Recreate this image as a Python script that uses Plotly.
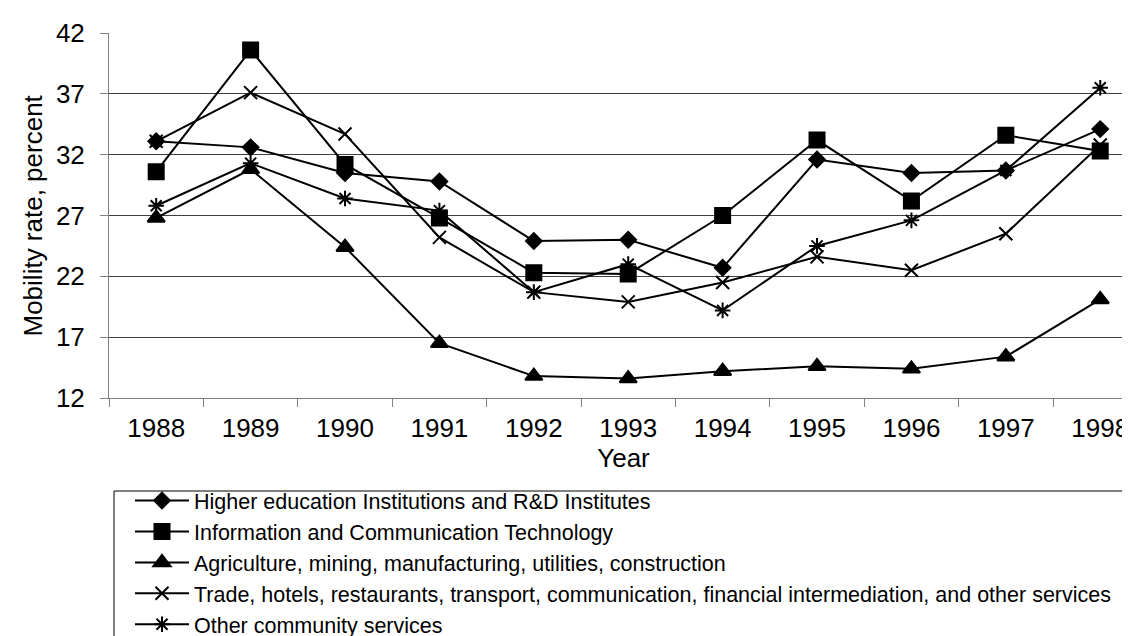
import plotly.graph_objects as go

years = ['1988', '1989', '1990', '1991', '1992', '1993', '1994', '1995', '1996', '1997', '1998']

higher_edu = [33.1, 32.6, 30.5, 29.8, 24.9, 25.0, 22.7, 31.6, 30.5, 30.7, 34.1]
ict = [30.6, 40.6, 31.2, 26.8, 22.3, 22.2, 27.0, 33.2, 28.2, 33.6, 32.3]
agriculture = [26.8, 30.8, 24.4, 16.5, 13.8, 13.6, 14.2, 14.6, 14.4, 15.4, 20.1]
trade = [33.1, 37.1, 33.7, 25.2, 20.7, 19.9, 21.5, 23.6, 22.5, 25.5, 32.8]
other_comm = [27.8, 31.3, 28.4, 27.4, 20.7, 23.0, 19.2, 24.5, 26.6, 30.7, 37.5]

series_names = [
    'Higher education Institutions and R&D Institutes',
    'Information and Communication Technology',
    'Agriculture, mining, manufacturing, utilities, construction',
    'Trade, hotels, restaurants, transport, communication, financial intermediation, and other services',
    'Other community services',
]

FONT = 'Liberation Sans, Arial, sans-serif'

# plot area in pixels (left, right, top, bottom)
L, R, T, B = 101, 1130, 25, 390
W, H = 1130, 636

fig = go.Figure()

styles = [
    dict(symbol='diamond', size=12),
    dict(symbol='square', size=15),
    dict(symbol='triangle-up', size=15),
    dict(symbol='x-thin', size=13),
    dict(symbol='asterisk', size=13),
]
all_series = [higher_edu, ict, agriculture, trade, other_comm]

for name, vals, st in zip(series_names, all_series, styles):
    fig.add_trace(go.Scatter(
        x=years,
        y=vals,
        name=name,
        mode='lines+markers',
        line=dict(color='black', width=2),
        marker=dict(symbol=st['symbol'], size=st['size'], color='black',
                    line=dict(color='black', width=2)),
    ))

# legend frame runs off the right edge like the original
fig.add_shape(
    type='rect', xref='paper', yref='paper',
    x0=(106 - L) / (R - L), x1=1.02,
    y0=(B - 640) / (B - T), y1=(B - 483) / (B - T),
    line=dict(color='black', width=1), fillcolor='rgba(0,0,0,0)',
)

# y title as an annotation, the axis title misplaces with fixed margins
fig.add_annotation(
    text='Mobility rate, percent',
    xref='paper', yref='paper',
    x=(24 - L) / (R - L), y=0.5,
    xanchor='center', yanchor='middle',
    textangle=-90, showarrow=False,
    font=dict(family=FONT, size=26, color='black'),
)

fig.update_layout(
    width=W, height=H,
    margin=dict(l=L, r=W - R, t=T, b=H - B, autoexpand=False),
    paper_bgcolor='white',
    plot_bgcolor='white',
    font=dict(family=FONT, color='black'),
    showlegend=True,
    legend=dict(
        xref='container', yref='container',
        x=122 / W, y=1 - 472 / H,
        xanchor='left', yanchor='top',
        font=dict(family=FONT, size=21.5, color='black'),
        itemwidth=54,
        bgcolor='rgba(0,0,0,0)',
        borderwidth=0,
        tracegroupgap=0,
    ),
    xaxis=dict(
        type='category',
        range=[-0.5, 10.4],
        tickson='boundaries',
        ticks='outside', ticklen=8, tickcolor='#808080', tickwidth=1,
        showline=True, linecolor='#808080', linewidth=1,
        showgrid=False,
        tickangle=0,
        ticklabelstandoff=7,
        tickfont=dict(size=26),
        title=dict(text='Year', font=dict(size=26), standoff=2),
    ),
    yaxis=dict(
        range=[12, 42],
        tickvals=[12, 17, 22, 27, 32, 37, 42],
        ticks='outside', ticklen=8, tickcolor='#808080', tickwidth=1,
        showline=True, linecolor='#808080', linewidth=1,
        showgrid=True, gridcolor='#404040', gridwidth=1,
        zeroline=False,
        ticklabelstandoff=10,
        tickfont=dict(size=26),
    ),
)

fig.write_html('out.html')
